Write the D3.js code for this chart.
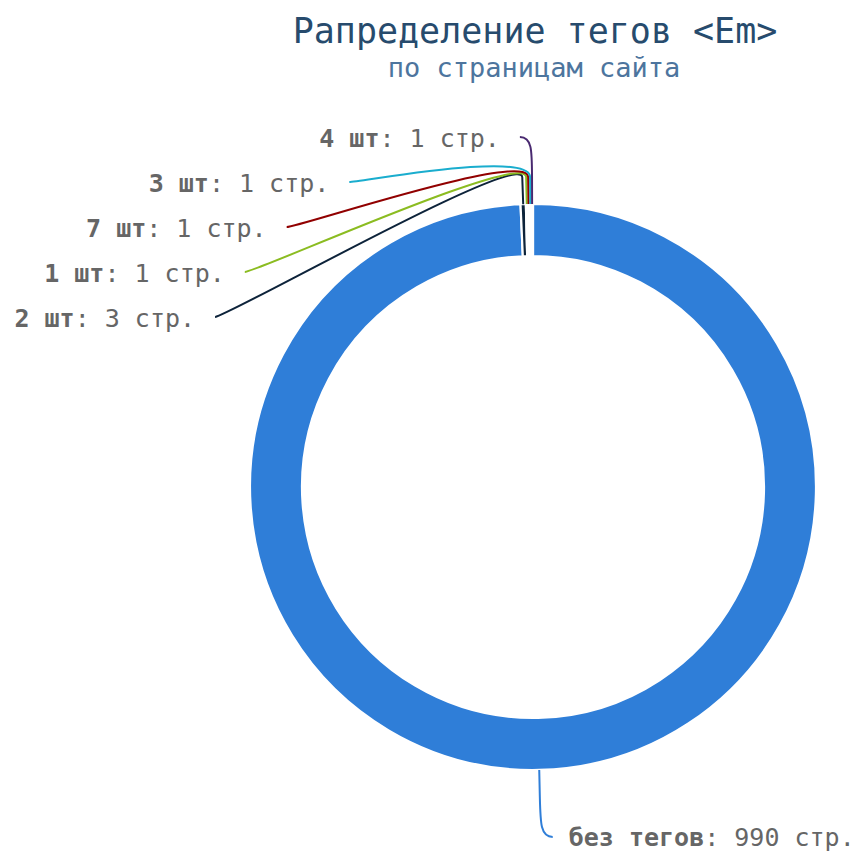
<!DOCTYPE html>
<html>
<head>
<meta charset="utf-8">
<script src="https://cdn.jsdelivr.net/npm/d3@7"></script>
<style>
  body { margin: 0; background: #fff; }
  text { font-family: "DejaVu Sans Mono", monospace; }
</style>
</head>
<body>
<div id="chart"></div>
<script>
// данные: число тегов <em> на странице и количество страниц
const names = ["без тегов", "2 шт", "1 шт", "7 шт", "3 шт", "4 шт"];
const pages = [990, 3, 1, 1, 1, 1];
const colors = ["#2f7ed8", "#0d233a", "#8bbc21", "#910000", "#1aadce", "#492970"];

const titleText = "Рапределение тегов <Em>";
const subtitleText = "по страницам сайта";

const width = 857, height = 860;
const cx = 533, cy = 487;
const outerR = 283, innerR = 231;
const labelDistance = 67;    // от края круга до подписи
const connectorOffset = 27;  // излом соединителя сразу за кругом
const slotHeight = 45;       // шаг подписей по вертикали

const svg = d3.select("#chart")
    .append("svg")
    .attr("width", width)
    .attr("height", height);

// заголовок
svg.append("text")
    .attr("x", 535)
    .attr("y", 43)
    .attr("text-anchor", "middle")
    .attr("fill", "#274b6d")
    .attr("font-size", "35px")
    .text(titleText);

svg.append("text")
    .attr("x", 534)
    .attr("y", 77)
    .attr("text-anchor", "middle")
    .attr("fill", "#4d759e")
    .attr("font-size", "27px")
    .text(subtitleText);

const data = names.map((name, i) => ({ name, value: pages[i], color: colors[i] }));

const pie = d3.pie()
    .sort(null)
    .value(d => d.value);

const arcs = pie(data);

const arc = d3.arc()
    .innerRadius(innerR)
    .outerRadius(outerR);

const chart = svg.append("g");

// сектора
chart.append("g")
    .attr("transform", `translate(${cx},${cy})`)
    .selectAll("path")
    .data(arcs)
    .enter()
    .append("path")
    .attr("d", arc)
    .attr("fill", d => d.data.color)
    .attr("stroke", "#fff")
    .attr("stroke-width", 2.2)
    .attr("stroke-linejoin", "round");

// точка на окружности радиуса r для угла a (от 12 часов по часовой)
const polar = (a, r) => [cx + r * Math.sin(a), cy - r * Math.cos(a)];

const labelR = outerR + labelDistance;

const labels = arcs.map(d => {
    const a = (d.startAngle + d.endAngle) / 2;
    const natural = polar(a, labelR);
    return {
        d,
        a,
        left: Math.sin(a) < 0,
        naturalY: natural[1]
    };
});

// раскладка подписей по слотам с каждой стороны
[true, false].forEach(side => {
    const group = labels.filter(l => l.left === side)
        .sort((p, q) => p.naturalY - q.naturalY);
    let prev = -Infinity;
    group.forEach(l => {
        l.y = Math.max(l.naturalY, prev + slotHeight);
        prev = l.y;
    });
});

labels.forEach(l => {
    const dy = l.y - cy;
    const dx = Math.sqrt(Math.max(0, labelR * labelR - dy * dy));
    l.x = l.left ? cx - dx : cx + dx;
});

// соединители
chart.append("g")
    .selectAll("path")
    .data(labels)
    .enter()
    .append("path")
    .attr("fill", "none")
    .attr("stroke", l => l.d.data.color)
    .attr("stroke-width", 2)
    .attr("d", l => {
        const p4 = polar(l.a, outerR);
        const p2 = polar(l.a, outerR + connectorOffset);
        const q = polar(l.a, outerR + 2 * connectorOffset);
        const sx = l.x + (l.left ? -12 : 12);
        const path = d3.path();
        path.moveTo(sx, l.y);
        path.bezierCurveTo(l.x, l.y, q[0], q[1], p2[0], p2[1]);
        path.lineTo(p4[0], p4[1]);
        return path.toString();
    });

// подписи
const text = chart.append("g")
    .selectAll("text")
    .data(labels)
    .enter()
    .append("text")
    .attr("x", l => l.x + (l.left ? -32 : 28))
    .attr("y", l => l.y + 9.5)
    .attr("text-anchor", l => l.left ? "end" : "start")
    .attr("fill", "#666")
    .attr("font-size", "25px");

text.append("tspan")
    .attr("font-weight", "bold")
    .text(l => l.d.data.name);

text.append("tspan")
    .text(l => `: ${l.d.data.value} стр.`);
</script>
</body>
</html>
